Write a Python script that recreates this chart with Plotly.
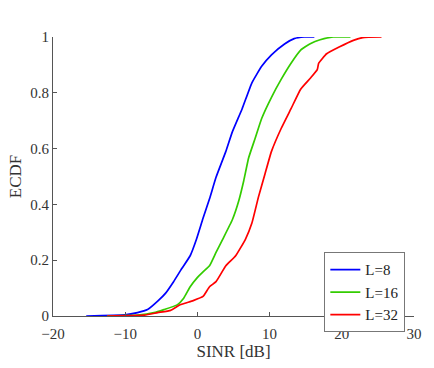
import plotly.graph_objects as go

# Data (SINR in dB, ECDF)
l8_x = [-15.4, -10.06, -8.3, -6.9, -5.5, -4.4, -3.3, -2.16, -1.0, -0.13, 0.78, 1.68, 2.58, 3.94, 4.84, 6.2, 7.55, 8.9, 10.26, 12.07, 13.4, 14.8, 16.2]
l8_y = [0, 0.004, 0.012, 0.023, 0.053, 0.082, 0.123, 0.17, 0.216, 0.275, 0.35, 0.42, 0.497, 0.59, 0.66, 0.743, 0.836, 0.895, 0.936, 0.975, 0.994, 1.0, 1.0]

l16_x = [-12.5, -8.3, -6.0, -4.64, -2.8, -1.9, -1.0, -0.13, 0.78, 1.68, 2.58, 3.5, 4.84, 5.75, 6.42, 7.1, 8.0, 8.9, 10.26, 11.6, 12.97, 14.3, 15.7, 17.0, 18.8, 21.2]
l16_y = [0, 0.003, 0.012, 0.023, 0.04, 0.064, 0.105, 0.134, 0.158, 0.18, 0.228, 0.275, 0.345, 0.415, 0.485, 0.567, 0.637, 0.708, 0.784, 0.848, 0.906, 0.953, 0.977, 0.99, 1.0, 1.0]

l32_x = [-12.5, -7.35, -5.5, -3.7, -2.4, -0.58, 0.78, 1.68, 2.58, 3.94, 5.3, 6.65, 7.55, 8.46, 9.36, 10.26, 11.6, 12.97, 14.3, 15.7, 16.6, 16.8, 17.9, 19.7, 21.6, 22.9, 25.5]
l32_y = [0, 0.003, 0.012, 0.02, 0.04, 0.055, 0.07, 0.105, 0.123, 0.18, 0.216, 0.275, 0.333, 0.427, 0.509, 0.59, 0.672, 0.743, 0.813, 0.854, 0.883, 0.906, 0.94, 0.965, 0.988, 0.998, 1.0]

series = [("L=8", l8_x, l8_y, "#0000ff"),
          ("L=16", l16_x, l16_y, "#33cc00"),
          ("L=32", l32_x, l32_y, "#ff0000")]

x_ticks = [-20, -10, 0, 10, 20, 30]
y_ticks = [0, 0.2, 0.4, 0.6, 0.8, 1]
y_tick_text = ["0", "0.2", "0.4", "0.6", "0.8", "1"]

FAM = "Liberation Serif, Times New Roman, serif"

fig = go.Figure()
for name, xs, ys, col in series:
    fig.add_trace(go.Scatter(x=xs, y=ys, mode="lines", name=name,
                             line=dict(color=col, width=1.7, shape="spline", smoothing=0.4)))

font = dict(family=FAM, size=15, color="#333333")
axis_common = dict(showgrid=False, zeroline=False, showline=True, linecolor="#555555",
                   linewidth=1, ticks="inside", ticklen=4, tickcolor="#555555",
                   mirror=False, tickfont=font)

fig.update_layout(
    width=434, height=368,
    margin=dict(l=53, r=12, t=37, b=46),
    paper_bgcolor="white", plot_bgcolor="white",
    font=font,
    showlegend=True,
    legend=dict(x=0.976, y=0.228, xanchor="right", yanchor="top",
                bgcolor="white", bordercolor="#777777", borderwidth=1,
                font=dict(family=FAM, size=15, color="#222222"),
                tracegroupgap=0, itemwidth=30),
    xaxis=dict(range=[-20, 30], tickvals=x_ticks, ticklabelstandoff=4,
               title=dict(text="SINR [dB]", font=dict(family=FAM, size=17, color="#333333"), standoff=2),
               **axis_common),
    yaxis=dict(range=[0, 1], tickvals=y_ticks, ticktext=y_tick_text,
               title=dict(text="ECDF", font=dict(family=FAM, size=17, color="#333333"), standoff=4),
               **axis_common),
)

fig.write_html("out.html", config={"displayModeBar": False},
               post_script="document.body.style.margin='0';document.body.style.overflow='hidden';")
